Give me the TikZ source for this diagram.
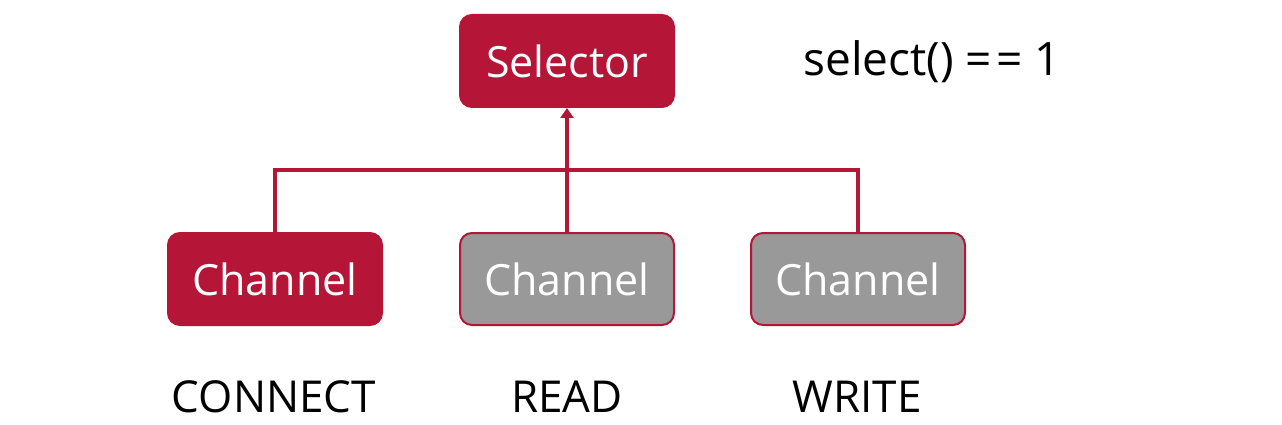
\documentclass[tikz,border=0pt]{standalone}
\usepackage{fontspec}
\setmainfont{Open Sans}
\usetikzlibrary{arrows.meta}
\definecolor{selred}{RGB}{181,22,56}
\definecolor{changray}{RGB}{153,153,153}
\tikzset{
  redbox/.style={draw=selred, fill=selred, rounded corners=12pt, line width=2pt,
    minimum width=214pt, minimum height=92pt, text=white, font=\fontsize{43}{50}\selectfont},
  graybox/.style={redbox, fill=changray},
  wire/.style={draw=selred, line width=4.5pt},
  label/.style={font=\fontsize{44}{50}\selectfont}
}
\begin{document}
\begin{tikzpicture}[x=1pt, y=-1pt]
\useasboundingbox (0,0) rectangle (1282,425);

\node[redbox] (sel) at (567,61) {Selector};
\node[font=\fontsize{46}{52}\selectfont] (cond) at (932,62) {select() =\kern4pt= 1};

\node[redbox] (ch1) at (275,279) {Channel};
\node[graybox] (ch2) at (567,279) {Channel};
\node[graybox] (ch3) at (858,279) {Channel};

% bus line between the channels
\coordinate (bus) at (567,170);
\draw[wire] (ch1.north) |- (bus) -| (ch3.north);
\draw[wire, -{Triangle[length=10pt, width=13pt]}] (ch2.north) -- (sel.south);

\node[label] (conn) at (274,397) {CONNECT};
\node[label] (rd) at (567,397) {READ};
\node[label] (wr) at (857,397) {WRITE};
\end{tikzpicture}
\end{document}
